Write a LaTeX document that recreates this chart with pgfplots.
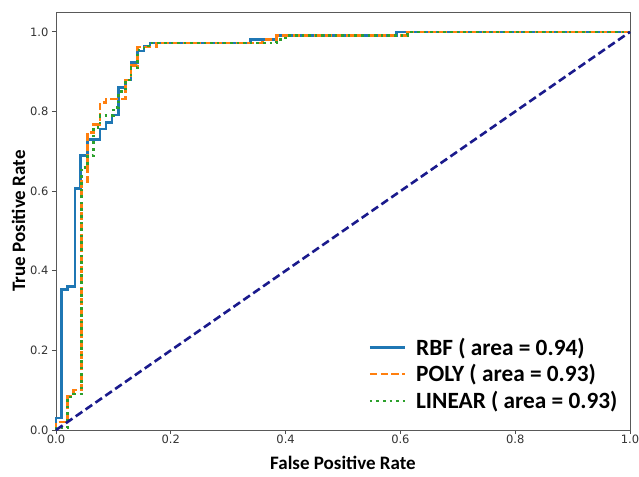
\documentclass[border=0pt]{standalone}
\usepackage{fontspec}
\setmainfont{Carlito}
\newfontfamily\dejavu{DejaVu Sans}
\usepackage{pgfplots}
\pgfplotsset{compat=1.18}

\definecolor{tabblue}{HTML}{1F77B4}
\definecolor{taborange}{HTML}{FF7F0E}
\definecolor{tabgreen}{HTML}{2CA02C}
\definecolor{diagnavy}{HTML}{1A1A8C}

\begin{document}
\begin{tikzpicture}
\begin{axis}[
    scale only axis,
    width=574pt,
    height=418pt,
    xmin=0, xmax=1,
    ymin=0, ymax=1.05,
    xtick={0,0.2,0.4,0.6,0.8,1.0},
    ytick={0,0.2,0.4,0.6,0.8,1.0},
    xticklabels={0.0,0.2,0.4,0.6,0.8,1.0},
    yticklabels={0.0,0.2,0.4,0.6,0.8,1.0},
    xtick pos=bottom, ytick pos=left,
    tick align=outside,
    major tick length=4pt,
    tick style={black!70, line width=0.8pt},
    axis line style={black!65, line width=0.9pt},
    ticklabel style={font=\dejavu\fontsize{11.5}{13}\selectfont, text=black!80},
    /pgf/number format/assume math mode=true,
    xticklabel style={yshift=3pt},
    xlabel={\bfseries False Positive Rate},
    ylabel={\bfseries True Positive Rate},
    label style={font=\fontsize{19}{21}\selectfont},
    xlabel style={yshift=-6pt},
    ylabel style={yshift=-2pt},
    legend cell align=left,
    legend style={draw=none, fill=none, at={(0.982,0.042)}, anchor=south east,
        font=\fontsize{23.3}{25}\selectfont\bfseries, row sep=4pt,
        inner sep=0pt, nodes={inner sep=2pt},
        /tikz/column 1/.style={column sep=8pt}},
    legend image code/.code={\draw[#1] (0pt,0pt) -- (35pt,0pt);},
    clip=false,
]
\addplot[tabblue, line width=2.6pt, line join=miter] coordinates {
(0,0)(0,0.03)(0.01,0.03)(0.01,0.353)(0.02,0.353)(0.02,0.361)(0.033,0.361)
(0.033,0.606)(0.043,0.606)(0.043,0.689)(0.055,0.689)(0.055,0.729)
(0.0765,0.729)(0.0765,0.756)(0.087,0.756)(0.087,0.773)(0.0975,0.773)
(0.0975,0.791)(0.1086,0.791)(0.1086,0.860)(0.1208,0.860)(0.1208,0.879)
(0.1308,0.879)(0.1308,0.923)(0.1424,0.923)(0.1424,0.952)(0.153,0.952)
(0.153,0.965)(0.164,0.965)(0.164,0.972)(0.339,0.972)(0.339,0.981)
(0.384,0.981)(0.384,0.991)(0.593,0.991)(0.593,1)(1,1)};
\addlegendentry{RBF ( area = 0.94)}
\addplot[taborange, line width=2.6pt, dash pattern=on 7.5pt off 3.2pt] coordinates {
(0,0)(0,0.02)(0.02,0.02)(0.02,0.085)(0.03,0.085)(0.03,0.10)(0.044,0.10)
(0.044,0.624)(0.055,0.624)(0.055,0.748)(0.065,0.748)(0.065,0.767)
(0.0765,0.767)(0.0765,0.823)(0.087,0.823)(0.087,0.831)(0.121,0.831)
(0.121,0.879)(0.131,0.879)(0.131,0.915)(0.142,0.915)(0.142,0.962)
(0.175,0.962)(0.175,0.972)(0.36,0.972)(0.36,0.981)(0.384,0.981)
(0.384,0.991)(0.612,0.991)(0.612,1)(1,1)};
\addlegendentry{POLY ( area = 0.93)}
\addplot[tabgreen, line width=2.6pt, dash pattern=on 2.6pt off 4pt] coordinates {
(0,0)(0,0.005)(0.02,0.005)(0.02,0.083)(0.03,0.083)(0.03,0.09)(0.044,0.09)
(0.044,0.66)(0.055,0.66)(0.055,0.69)(0.065,0.69)(0.065,0.76)(0.0765,0.76)
(0.0765,0.79)(0.1,0.79)(0.1,0.81)(0.109,0.81)(0.109,0.85)(0.121,0.85)
(0.121,0.879)(0.131,0.879)(0.131,0.91)(0.142,0.91)(0.142,0.955)
(0.153,0.955)(0.153,0.965)(0.164,0.965)(0.164,0.972)(0.384,0.972)
(0.384,0.981)(0.40,0.981)(0.40,0.991)(0.612,0.991)(0.612,1)(1,1)};
\addlegendentry{LINEAR ( area = 0.93)}
\addplot[diagnavy, line width=2.6pt, dash pattern=on 8pt off 4pt, forget plot] coordinates {(0,0)(1,1)};
\coordinate (sw) at (rel axis cs:0,0);
\coordinate (ne) at (rel axis cs:1,1);
\end{axis}
\pgfresetboundingbox
\path ([xshift=-56pt,yshift=-46pt]sw) rectangle ([xshift=9pt,yshift=12pt]ne);
\end{tikzpicture}
\end{document}
